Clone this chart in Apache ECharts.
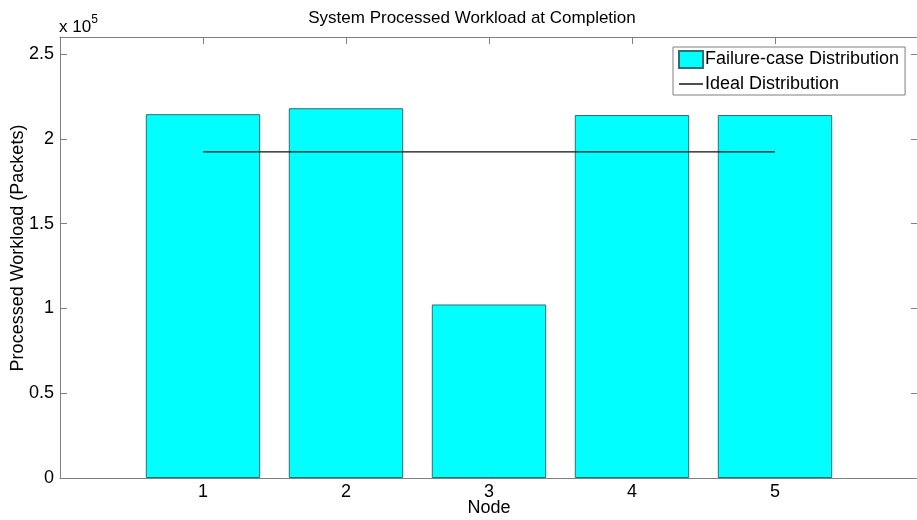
<!DOCTYPE html>
<html>
<head>
<meta charset="utf-8">
<script src="https://cdn.jsdelivr.net/npm/echarts@6/dist/echarts.min.js"></script>
<style>
  html, body { margin: 0; padding: 0; background: #fff; }
  #chart { width: 917px; height: 520px; }
</style>
</head>
<body>
<div id="chart"></div>
<script>
// Nodes and processed packet counts
const nodes = [1, 2, 3, 4, 5];
const failureCase = [214500, 218000, 102300, 214000, 214000];
const idealDistribution = [192300, 192300, 192300, 192300, 192300];
const yTicks = [0, 50000, 100000, 150000, 200000, 250000];

const FONT = 'Liberation Sans, Arial, sans-serif';
const AXIS_GREY = '#7f7f7f';

const barData = nodes.map((n, i) => [n, failureCase[i]]);
const lineData = nodes.map((n, i) => [n, idealDistribution[i]]);

const chart = echarts.init(document.getElementById('chart'), null, { renderer: 'canvas' });

const tickLabel = v => (yTicks.indexOf(v) >= 0 ? String(+(v / 1e5).toFixed(1)) : '');

chart.setOption({
  animation: false,
  backgroundColor: '#fff',
  title: {
    text: 'System Processed Workload at Completion',
    left: 467,
    top: 5,
    textAlign: 'center',
    textStyle: { fontFamily: FONT, fontSize: 17, fontWeight: 'normal', color: '#000' }
  },
  grid: { left: 60, top: 37, width: 858, height: 441, containLabel: false, outerBoundsMode: 'none' },
  legend: {
    orient: 'vertical',
    left: 673,
    top: 47,
    padding: [3, 6, 2, 5],
    itemWidth: 24,
    itemHeight: 17,
    itemGap: 6,
    borderColor: AXIS_GREY,
    borderWidth: 1,
    backgroundColor: '#fff',
    textStyle: { fontFamily: FONT, fontSize: 18, color: '#000', padding: [0, 0, 0, -3] },
    data: [
      { name: 'Failure-case Distribution', icon: 'rect' },
      { name: 'Ideal Distribution', icon: 'path://M0,0H24V1.4H0Z', itemStyle: { color: '#000' } }
    ]
  },
  graphic: [{
    type: 'text',
    left: 59,
    top: 14,
    style: {
      text: '{b|x 10}{s|5}',
      rich: {
        b: { fontFamily: FONT, fontSize: 17, color: '#000', verticalAlign: 'bottom', lineHeight: 22 },
        s: { fontFamily: FONT, fontSize: 12, color: '#000', verticalAlign: 'top', lineHeight: 22, padding: [0, 0, 9, 0] }
      }
    }
  }, {
    // y-axis title
    type: 'text',
    x: 18,
    y: 248,
    rotation: Math.PI / 2,
    style: {
      text: 'Processed Workload (Packets)',
      fontFamily: FONT, fontSize: 18, fill: '#000',
      align: 'center', verticalAlign: 'middle'
    }
  }, {
    // x-axis title
    type: 'text',
    x: 489,
    y: 508,
    style: {
      text: 'Node',
      fontFamily: FONT, fontSize: 18, fill: '#000',
      align: 'center', verticalAlign: 'middle'
    }
  }],
  xAxis: [{
    type: 'value',
    min: 0, max: 6, interval: 1,
    axisLine: { onZero: false, lineStyle: { color: AXIS_GREY, width: 1 } },
    axisTick: { inside: true, length: 7, lineStyle: { color: AXIS_GREY } },
    axisLabel: {
      margin: 5,
      fontFamily: FONT, fontSize: 18, color: '#000',
      formatter: v => (nodes.indexOf(v) >= 0 ? String(v) : '')
    },
    splitLine: { show: false }
  }, {
    type: 'value',
    position: 'top',
    min: 0, max: 6, interval: 1,
    axisLine: { onZero: false, lineStyle: { color: AXIS_GREY, width: 1 } },
    axisTick: { inside: true, length: 7, lineStyle: { color: AXIS_GREY } },
    axisLabel: { show: false },
    splitLine: { show: false }
  }],
  yAxis: [{
    type: 'value',
    min: 0, max: 260000, interval: 50000,
    axisLine: { show: true, onZero: false, lineStyle: { color: AXIS_GREY, width: 1 } },
    axisTick: { show: true, inside: true, length: 7, lineStyle: { color: AXIS_GREY } },
    axisLabel: { margin: 6, fontFamily: FONT, fontSize: 18, color: '#000', formatter: tickLabel, showMaxLabel: false },
    splitLine: { show: false }
  }, {
    type: 'value',
    position: 'right',
    min: 0, max: 260000, interval: 50000,
    axisLine: { show: true, onZero: false, lineStyle: { color: AXIS_GREY, width: 1 } },
    axisTick: { show: true, inside: true, length: 7, lineStyle: { color: AXIS_GREY } },
    axisLabel: { show: false },
    splitLine: { show: false }
  }],
  series: [{
    name: 'Failure-case Distribution',
    type: 'bar',
    xAxisIndex: 0,
    yAxisIndex: 0,
    barWidth: '80%',
    data: barData,
    itemStyle: { color: '#00ffff', borderColor: '#2f6f6f', borderWidth: 1 }
  }, {
    name: 'Ideal Distribution',
    type: 'line',
    xAxisIndex: 0,
    yAxisIndex: 0,
    symbol: 'none',
    data: lineData,
    lineStyle: { color: '#111', width: 1.3 },
    itemStyle: { color: '#111' }
  }]
});
</script>
</body>
</html>
